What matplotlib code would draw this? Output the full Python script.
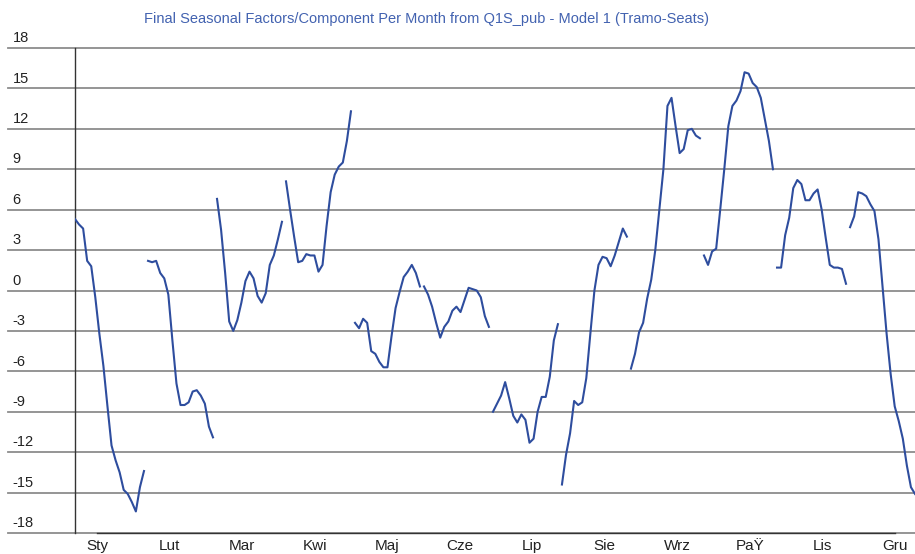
import numpy as np
import matplotlib.pyplot as plt
import matplotlib.transforms as mtransforms

# seasonal factors read per month (one line per month, years in order)
months = ['Sty', 'Lut', 'Mar', 'Kwi', 'Maj', 'Cze', 'Lip', 'Sie', 'Wrz', 'PaŸ', 'Lis', 'Gru']

sty = [5.3, 4.9, 4.6, 2.2, 1.8, -0.5, -3.2, -5.6, -8.6, -11.5, -12.6, -13.5, -14.8, -15.1, -15.7, -16.4, -14.6, -13.4]
lut = [2.2, 2.1, 2.2, 1.3, 0.9, -0.3, -3.7, -6.9, -8.5, -8.5, -8.3, -7.5, -7.4, -7.8, -8.4, -10.1, -10.9]
mar = [6.8, 4.5, 1.3, -2.3, -3.0, -2.2, -0.9, 0.7, 1.4, 0.9, -0.4, -0.9, -0.2, 1.9, 2.6, 3.8, 5.1]
kwi = [8.1, 6.0, 4.0, 2.1, 2.2, 2.7, 2.6, 2.6, 1.4, 1.9, 4.8, 7.3, 8.6, 9.2, 9.5, 11.1, 13.3]
maj = [-2.4, -2.8, -2.1, -2.4, -4.5, -4.7, -5.3, -5.7, -5.7, -3.4, -1.3, -0.1, 1.0, 1.4, 1.9, 1.3, 0.3]
cze = [0.3, -0.3, -1.2, -2.4, -3.5, -2.7, -2.3, -1.5, -1.2, -1.6, -0.7, 0.2, 0.1, 0.0, -0.5, -1.9, -2.7]
lip = [-9.0, -8.4, -7.8, -6.8, -8.0, -9.3, -9.8, -9.2, -9.6, -11.3, -11.0, -9.0, -7.9, -7.9, -6.4, -3.7, -2.5]
sie = [-14.4, -12.2, -10.6, -8.2, -8.5, -8.3, -6.5, -3.2, 0.0, 1.9, 2.5, 2.4, 1.8, 2.6, 3.6, 4.6, 4.0]
wrz = [-5.8, -4.7, -3.1, -2.4, -0.6, 0.8, 3.0, 6.0, 9.0, 13.7, 14.3, 12.2, 10.2, 10.5, 11.9, 12.0, 11.5, 11.3]
paz = [2.6, 1.9, 2.9, 3.1, 6.0, 9.0, 12.2, 13.7, 14.1, 14.8, 16.2, 16.1, 15.4, 15.1, 14.3, 12.7, 11.1, 9.0]
lis = [1.7, 1.7, 4.1, 5.4, 7.6, 8.2, 7.9, 6.7, 6.7, 7.2, 7.5, 6.0, 3.9, 1.9, 1.7, 1.7, 1.6, 0.5]
gru = [4.7, 5.5, 7.3, 7.2, 7.0, 6.4, 5.9, 3.8, 0.3, -3.2, -6.2, -8.6, -9.7, -11.0, -13.0, -14.6, -15.1]

series = [sty, lut, mar, kwi, maj, cze, lip, sie, wrz, paz, lis, gru]

yticks = list(range(-18, 19, 3))
title = 'Final Seasonal Factors/Component Per Month from Q1S_pub - Model 1 (Tramo-Seats)'

plt.rcParams['font.family'] = ['Liberation Sans', 'DejaVu Sans']

W, H = 915, 554
fig = plt.figure(figsize=(W / 100, H / 100), dpi=100)
ax = fig.add_axes([75 / W, 21 / H, 840 / W, 485 / H])

# each month is its own line, laid one after another on a running index
start = 0
for vals in series:
  x = np.arange(start, start + len(vals))
  ax.plot(x, vals, color='#2e4d9e', lw=1.5, zorder=3)
  start += len(vals)

ax.set_xlim(0, start - 1)
ax.set_ylim(-18, 18)

# horizontal grid runs out under the value labels
for v in yticks:
  ax.axhline(v, xmin=-67 / 840, xmax=1, color='#8c8c8c', lw=1.3, clip_on=False, zorder=1)

for s in ['top', 'right', 'bottom']:
  ax.spines[s].set_visible(False)
ax.spines['left'].set_color('#333333')
ax.spines['left'].set_linewidth(1.0)

# value labels sit above their grid line at the far left
trans = mtransforms.blended_transform_factory(fig.transFigure, ax.transData)
trans = mtransforms.offset_copy(trans, fig=fig, y=4.2, units='points')
for v in yticks:
  ax.text(12.5 / W, v, str(v), transform=trans, ha='left', va='baseline',
          fontsize=10.5, color='#222222')
ax.set_yticks([])

# month labels
pos = [5.47 + 17.87 * i for i in range(len(months))]
ax.set_xticks(pos)
ax.set_xticklabels(months)
ax.tick_params(axis='x', length=0, pad=4, labelsize=11, labelcolor='#222222')
ax.plot([pos[0], pos[-1]], [-18, -18], color='#333333', lw=1.0, clip_on=False, zorder=2)

fig.text(427 / W, 1 - 19.5 / H, title, ha='center', va='center', fontsize=10.5, color='#4262b0')

plt.savefig('out.png', dpi=100)
